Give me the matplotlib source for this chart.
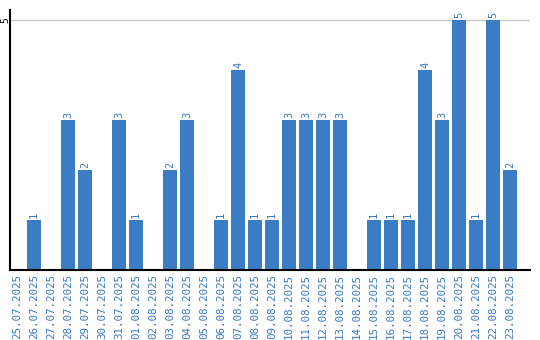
import matplotlib
matplotlib.use("Agg")
import matplotlib.pyplot as plt

dates = ["25.07.2025", "26.07.2025", "27.07.2025", "28.07.2025", "29.07.2025",
         "30.07.2025", "31.07.2025", "01.08.2025", "02.08.2025", "03.08.2025",
         "04.08.2025", "05.08.2025", "06.08.2025", "07.08.2025", "08.08.2025",
         "09.08.2025", "10.08.2025", "11.08.2025", "12.08.2025", "13.08.2025",
         "14.08.2025", "15.08.2025", "16.08.2025", "17.08.2025", "18.08.2025",
         "19.08.2025", "20.08.2025", "21.08.2025", "22.08.2025", "23.08.2025"]
values = [0, 1, 0, 3, 2, 0, 3, 1, 0, 2, 3, 0, 1, 4, 1, 1, 3, 3, 3, 3,
          0, 1, 1, 1, 4, 3, 5, 1, 5, 2]
yticks = [5]

bar_color = "#3b7dc4"
text_color = "#3a78c0"

fig = plt.figure(figsize=(5.4, 3.4), dpi=100)
ax = fig.add_axes([10/540, 70/340, 520/540, 260/340])
x = list(range(len(dates)))
ax.bar(x, values, width=14/17, color=bar_color, zorder=2)
for xi, v in zip(x, values):
    if v > 0:
        ax.text(xi, v + 0.05, str(v), rotation=90, ha="center", va="bottom",
                fontsize=7.5, color=text_color, family="DejaVu Sans Mono")

ax.set_xlim(-0.41, 30.18)
ax.set_ylim(0, 5.2)
ax.set_yticks(yticks)
ax.set_yticklabels([str(t) for t in yticks], rotation=90, va="center",
                   ha="right", fontsize=7, family="DejaVu Sans Mono")
ax.yaxis.grid(True, color="#c8c8c8", linewidth=1, zorder=0)
ax.set_xticks(x)
ax.set_xticklabels(dates, rotation=90, fontsize=7.8, color=text_color,
                   family="DejaVu Sans Mono")
ax.tick_params(axis="x", length=0, pad=3)
ax.tick_params(axis="y", length=0, pad=0)
for s in ["top", "right"]:
    ax.spines[s].set_visible(False)
ax.spines["left"].set_color("black")
ax.spines["bottom"].set_color("black")
ax.spines["left"].set_linewidth(1.5)
ax.spines["bottom"].set_linewidth(1.5)

fig.savefig("out.png", dpi=100)
